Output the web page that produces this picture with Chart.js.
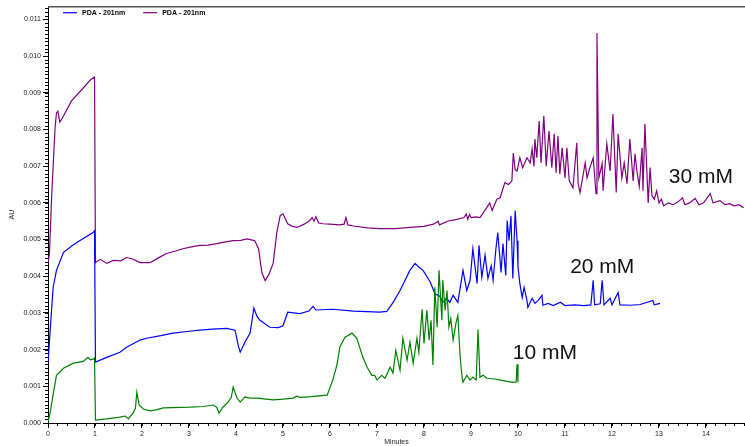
<!DOCTYPE html>
<html>
<head>
<meta charset="utf-8">
<script src="https://cdn.jsdelivr.net/npm/chart.js@4.4.1/dist/chart.umd.min.js"></script>
<style>
  html, body { margin: 0; padding: 0; background: #ffffff; }
  canvas { display: block; }
</style>
</head>
<body>
<canvas id="chart" width="745" height="446"></canvas>
<script>
// Retention times (minutes) and absorbance (AU) for each run
const time30 = [0, 0.03, 0.08, 0.15, 0.18, 0.21, 0.25, 0.3, 0.5, 0.75, 0.9, 0.99, 1.01,
  1.11, 1.25, 1.39, 1.55, 1.67, 1.8, 1.96, 2.17, 2.35, 2.52, 2.7, 2.87, 3.05, 3.23, 3.4, 3.59, 3.75, 3.94,
  4.1, 4.23, 4.3, 4.4, 4.48, 4.55, 4.62, 4.7, 4.79, 4.87, 4.94, 5.0, 5.1, 5.2, 5.3, 5.45, 5.57, 5.62, 5.66,
  5.7, 5.76, 5.85, 6.0, 6.2, 6.3, 6.34, 6.38, 6.5, 6.8, 7.06, 7.4, 7.7, 8.0, 8.2, 8.3, 8.33, 8.5, 8.7, 8.85,
  8.9, 8.93, 8.97, 9.0, 9.1, 9.19, 9.3, 9.4, 9.45, 9.55, 9.62, 9.72, 9.8, 9.87, 9.9, 9.94, 9.98, 10.04, 10.1,
  10.19, 10.26, 10.3, 10.34, 10.36, 10.4, 10.45, 10.49, 10.55, 10.6, 10.66, 10.72, 10.77, 10.81, 10.85, 10.89,
  10.94, 11.0, 11.04, 11.09, 11.17, 11.25, 11.28, 11.32, 11.43, 11.47, 11.53, 11.6, 11.66, 11.68, 11.72, 11.79,
  11.81, 11.89, 11.96, 12.02, 12.09, 12.13, 12.21, 12.26, 12.32, 12.38, 12.45, 12.49, 12.53, 12.58, 12.64,
  12.66, 12.7, 12.77, 12.81, 12.85, 12.9, 12.95, 13.0, 13.05, 13.1, 13.2, 13.3, 13.4, 13.5, 13.55, 13.65,
  13.77, 13.85, 13.95, 14.09, 14.15, 14.3, 14.4, 14.5, 14.6, 14.7, 14.8];
const au30 = [0.00437, 0.0046, 0.00625, 0.00804, 0.00845, 0.0085, 0.0082, 0.0083, 0.00878, 0.00913, 0.00935, 0.00943, 0.00437,
  0.00446, 0.00435, 0.00443, 0.00442, 0.00451, 0.00447, 0.00437, 0.00437, 0.0045, 0.00462, 0.00468, 0.00475, 0.0048, 0.00484, 0.00485, 0.00489, 0.00493, 0.00497,
  0.00498, 0.00502, 0.005, 0.00497, 0.00475, 0.0041, 0.00388, 0.00405, 0.00435, 0.0052, 0.00565, 0.0057, 0.00543, 0.00536, 0.00533, 0.00542, 0.00552, 0.0056, 0.0055,
  0.00562, 0.00545, 0.00543, 0.00542, 0.0054, 0.00542, 0.0056, 0.0054, 0.00537, 0.00532, 0.0053, 0.0053, 0.00533, 0.00536, 0.00542, 0.0055, 0.0054, 0.0055, 0.00555, 0.0056,
  0.0057, 0.00555, 0.00568, 0.0056, 0.00562, 0.0056, 0.0058, 0.006, 0.00579, 0.0061, 0.00614, 0.00655, 0.0065, 0.0066, 0.00736, 0.0069, 0.00687, 0.00723, 0.00696,
  0.00723, 0.00709, 0.00747, 0.007, 0.00774, 0.00723, 0.00823, 0.00709, 0.00837, 0.007, 0.00796, 0.00696, 0.00788, 0.00682, 0.00783, 0.00679,
  0.0075, 0.00668, 0.0075, 0.0066, 0.00641, 0.00764, 0.00652, 0.00628, 0.00709, 0.00668, 0.00696, 0.00723, 0.00625, 0.01063, 0.00668, 0.00707,
  0.00633, 0.00761, 0.00687, 0.00842, 0.00628, 0.00788, 0.00668, 0.00709, 0.00652, 0.00774, 0.0066, 0.00734, 0.00687, 0.00645, 0.0075,
  0.00633, 0.00815, 0.006, 0.00696, 0.0062, 0.0061, 0.00633, 0.006, 0.0061, 0.00592, 0.006, 0.00595, 0.00602, 0.00614, 0.00595, 0.006,
  0.00612, 0.00595, 0.006, 0.00625, 0.006, 0.00606, 0.00595, 0.00598, 0.00592, 0.00595, 0.00587];

const time20 = [0, 0.05, 0.11, 0.18, 0.33, 0.54, 0.75, 0.96, 0.99, 1.01, 1.25, 1.53, 1.68, 1.96, 2.1, 2.4, 2.66,
  3.0, 3.23, 3.5, 3.8, 3.98, 4.05, 4.09, 4.19, 4.3, 4.38, 4.45, 4.51, 4.72, 4.9, 5.0, 5.1, 5.36, 5.55, 5.64, 5.7,
  6.06, 6.5, 7.06, 7.21, 7.35, 7.49, 7.6, 7.7, 7.81, 7.9, 7.98, 8.13, 8.23, 8.34, 8.4, 8.48, 8.55, 8.62, 8.72,
  8.83, 8.91, 8.98, 9.04, 9.13, 9.17, 9.23, 9.3, 9.36, 9.43, 9.47, 9.53, 9.57, 9.64, 9.68, 9.74, 9.77, 9.81, 9.85,
  9.89, 9.94, 9.98, 10.0, 10.04, 10.09, 10.13, 10.19, 10.21, 10.3, 10.36, 10.43, 10.51, 10.53, 10.64, 10.75, 10.9,
  11.0, 11.2, 11.4, 11.55, 11.6, 11.63, 11.75, 11.79, 11.83, 11.96, 12.0, 12.13, 12.17, 12.4, 12.6, 12.87, 12.9, 13.02];
const au20 = [0.00163, 0.0026, 0.0037, 0.00416, 0.00465, 0.00486, 0.00503, 0.00519, 0.00524, 0.00166, 0.00179, 0.00193, 0.00207, 0.00226, 0.00231, 0.00238, 0.00245,
  0.0025, 0.00253, 0.00256, 0.00258, 0.00253, 0.0021, 0.00193, 0.0022, 0.00245, 0.00313, 0.0029, 0.0028, 0.00261, 0.0026, 0.00265, 0.00302, 0.00298, 0.00305, 0.00318, 0.00308,
  0.0031, 0.00305, 0.00302, 0.00304, 0.0033, 0.00361, 0.0039, 0.00416, 0.00435, 0.00424, 0.00416, 0.00385, 0.00353, 0.00345, 0.00329, 0.0034, 0.00329, 0.00348, 0.00329,
  0.00416, 0.00361, 0.00389, 0.00475, 0.0038, 0.00484, 0.00397, 0.00457, 0.00394, 0.00429, 0.00389, 0.00475, 0.00519, 0.0041, 0.00489, 0.00402, 0.00552, 0.00497, 0.00565,
  0.00394, 0.00579, 0.00497, 0.00424, 0.0038, 0.00342, 0.0037, 0.00334, 0.00315, 0.0034, 0.00326, 0.00334, 0.00348, 0.00321, 0.00326, 0.0032, 0.00329,
  0.0032, 0.00322, 0.0032, 0.00322, 0.00389, 0.00322, 0.00325, 0.00389, 0.00322, 0.0034, 0.00322, 0.00356, 0.00322, 0.00321, 0.00323, 0.00334, 0.00322, 0.00326];

const time10 = [0, 0.05, 0.09, 0.18, 0.33, 0.54, 0.75, 0.85, 0.9, 0.96, 0.99, 1.01, 1.25, 1.53, 1.64, 1.71, 1.81, 1.86,
  1.89, 1.94, 2.03, 2.17, 2.3, 2.45, 3.02, 3.3, 3.51, 3.59, 3.64, 3.72, 3.83, 3.9, 3.94, 4.02, 4.09, 4.19, 4.3, 4.45,
  4.79, 5.0, 5.21, 5.3, 5.36, 5.6, 5.94, 6.06, 6.15, 6.21, 6.32, 6.47, 6.57, 6.7, 6.79, 6.89, 6.95, 7.0, 7.1, 7.17,
  7.28, 7.34, 7.4, 7.49, 7.55, 7.64, 7.7, 7.77, 7.85, 7.89, 7.96, 8.0, 8.06, 8.11, 8.15, 8.19, 8.23, 8.28, 8.32, 8.38,
  8.4, 8.45, 8.49, 8.53, 8.57, 8.62, 8.68, 8.72, 8.77, 8.81, 8.83, 8.91, 8.98, 9.04, 9.11, 9.15, 9.19, 9.26, 9.34,
  9.5, 9.62, 9.89, 9.96, 9.98, 10.0];
const au10 = [0.00003, 0.0003, 0.00063, 0.0013, 0.00149, 0.00163, 0.00168, 0.00179, 0.00172, 0.00174, 0.00177, 0.00008, 0.00011, 0.00016, 0.00019, 0.00011, 0.00027, 0.0004,
  0.00084, 0.00049, 0.00038, 0.00033, 0.00036, 0.00041, 0.00043, 0.00045, 0.00049, 0.00043, 0.00027, 0.00043, 0.00057, 0.0007, 0.00098, 0.00068, 0.00057, 0.00071, 0.00068, 0.00068,
  0.00063, 0.00065, 0.00068, 0.00073, 0.0007, 0.00072, 0.00076, 0.00117, 0.0016, 0.00207, 0.00234, 0.00245, 0.00231, 0.00179, 0.00152, 0.0013, 0.0013, 0.00117, 0.0013, 0.00122,
  0.00152, 0.00136, 0.00198, 0.00144, 0.00231, 0.00171, 0.0022, 0.00163, 0.00231, 0.00193, 0.0031, 0.00217, 0.00307, 0.00226, 0.0028, 0.00158, 0.0037, 0.00261, 0.00416, 0.0028,
  0.00389, 0.00307, 0.00361, 0.00261, 0.00285, 0.00226, 0.00272, 0.00293, 0.00179, 0.00125, 0.00111, 0.0013, 0.00117, 0.00125, 0.00117, 0.00255, 0.00125, 0.0013, 0.00122,
  0.0012, 0.00117, 0.00111, 0.00112, 0.0016, 0.00111];

const legendText = ['PDA - 201nm', 'PDA - 201nm'];
const runLabels = ['30 mM', '20 mM', '10 mM'];
const xTickStep = 1;
const yTickStep = 0.001;

const FONT = '"Liberation Sans", Arial, Helvetica, sans-serif';
Chart.defaults.font.family = FONT;
Chart.defaults.color = '#222';

const toPoints = (ts, vs) => ts.map((t, i) => ({ x: t, y: vs[i] }));

// Where each run's concentration label sits (data units, left/baseline anchor)
const runLabelSpots = [
  { text: runLabels[0], x: 13.21, y: 0.00655 },
  { text: runLabels[1], x: 11.11, y: 0.00408 },
  { text: runLabels[2], x: 9.89, y: 0.00174 }
];

const frame = {
  id: 'frame',
  afterDraw(chart) {
    const { ctx, chartArea: a, scales: { x, y } } = chart;
    ctx.save();
    // top border line
    ctx.strokeStyle = '#555';
    ctx.lineWidth = 1.5;
    ctx.beginPath();
    ctx.moveTo(a.left, a.top + 0.5);
    ctx.lineTo(a.right, a.top + 0.5);
    ctx.stroke();
    // minor ticks
    ctx.strokeStyle = '#000';
    ctx.lineWidth = 1;
    ctx.beginPath();
    for (let i = 0; i <= 74; i++) {
      const px = Math.round(x.getPixelForValue(i * 0.2)) + 0.5;
      ctx.moveTo(px, a.bottom);
      ctx.lineTo(px, a.bottom + 3);
    }
    for (let i = 0; i <= 113; i++) {
      const py = Math.round(y.getPixelForValue(i * 0.0001)) + 0.5;
      ctx.moveTo(a.left, py);
      ctx.lineTo(a.left - 3, py);
    }
    ctx.stroke();

    // legend row inside the plot, along the top
    ctx.font = 'bold 7px ' + FONT;
    ctx.textBaseline = 'middle';
    ctx.textAlign = 'left';
    let lx = a.left + 15;
    const ly = a.top + 6.5;
    chart.data.datasets.slice(0, 2).forEach((ds) => {
      ctx.strokeStyle = ds.borderColor;
      ctx.lineWidth = 1.2;
      ctx.beginPath();
      ctx.moveTo(lx, ly);
      ctx.lineTo(lx + 14, ly);
      ctx.stroke();
      ctx.fillStyle = '#000';
      ctx.fillText(ds.label, lx + 19, ly);
      lx += 19 + ctx.measureText(ds.label).width + 18;
    });
    ctx.restore();
  },
  afterDatasetsDraw(chart) {
    const { ctx, scales: { x, y } } = chart;
    ctx.save();
    ctx.fillStyle = '#111';
    ctx.font = '21px ' + FONT;
    ctx.textAlign = 'left';
    ctx.textBaseline = 'alphabetic';
    runLabelSpots.forEach(s => ctx.fillText(s.text, x.getPixelForValue(s.x), y.getPixelForValue(s.y)));
    ctx.restore();
  }
};

new Chart(document.getElementById('chart'), {
  type: 'line',
  data: {
    datasets: [
      { label: legendText[0], data: toPoints(time20, au20), borderColor: '#0000ff', backgroundColor: '#0000ff', order: 1 },
      { label: legendText[1], data: toPoints(time30, au30), borderColor: '#800080', backgroundColor: '#800080', order: 2 },
      { label: '10 mM', data: toPoints(time10, au10), borderColor: '#008000', backgroundColor: '#008000', order: 0 }
    ]
  },
  options: {
    responsive: false,
    animation: false,
    devicePixelRatio: 1,
    layout: { padding: { top: 5, right: 0, left: 0, bottom: 0 } },
    elements: {
      line: { borderWidth: 1.2, tension: 0, fill: false },
      point: { radius: 0, hoverRadius: 0 }
    },
    plugins: {
      tooltip: { enabled: false },
      legend: { display: false }
    },
    scales: {
      x: {
        type: 'linear',
        min: 0,
        max: 14.83,
        afterFit: s => { s.height = 23; },
        afterBuildTicks: s => { s.ticks = s.ticks.filter(t => Math.abs(t.value - Math.round(t.value)) < 1e-6); },
        ticks: { stepSize: xTickStep, autoSkip: false, maxRotation: 0, padding: 2, color: '#222', font: { size: 7 }, callback: v => String(Math.round(v)) },
        grid: { drawOnChartArea: false, tickLength: 5, tickColor: '#000' },
        border: { color: '#000', width: 1 },
        title: { display: true, text: 'Minutes', color: '#222', font: { size: 7 }, padding: { top: 0, bottom: 0 } }
      },
      y: {
        type: 'linear',
        min: 0,
        max: 0.01136,
        afterFit: s => { s.width = 48; },
        afterBuildTicks: s => { s.ticks = s.ticks.filter(t => Math.abs(t.value / yTickStep - Math.round(t.value / yTickStep)) < 1e-6); },
        ticks: { stepSize: yTickStep, autoSkip: false, padding: 2, color: '#222', font: { size: 7 }, callback: v => v.toFixed(3) },
        grid: { drawOnChartArea: false, tickLength: 5, tickColor: '#000' },
        border: { color: '#000', width: 1 },
        title: { display: true, text: 'AU', color: '#222', font: { size: 7 }, padding: { top: 8, bottom: 0 } }
      }
    }
  },
  plugins: [frame]
});
</script>
</body>
</html>
